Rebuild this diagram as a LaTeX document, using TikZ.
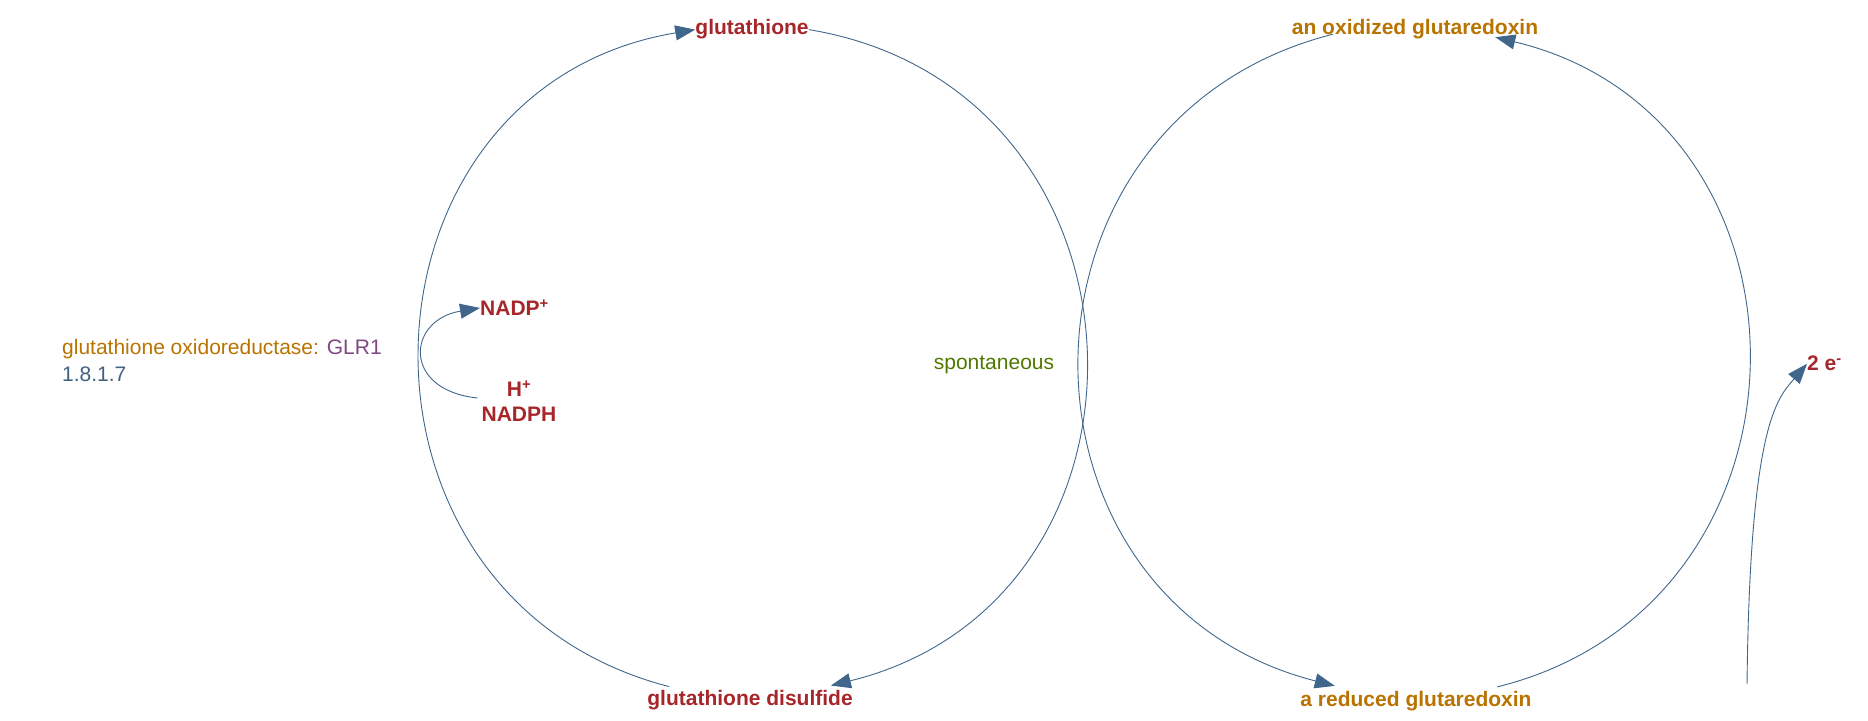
\documentclass[tikz,border=0pt]{standalone}
\usepackage{fontspec}
\setmainfont{Liberation Sans}
\usetikzlibrary{arrows.meta,calc}
\definecolor{cline}{RGB}{64,102,140}
\definecolor{cred}{RGB}{166,38,42}
\definecolor{corange}{RGB}{184,115,0}
\definecolor{cpurple}{RGB}{128,72,128}
\definecolor{cblue}{RGB}{64,96,128}
\definecolor{cgreen}{RGB}{80,120,0}
\begin{document}
\begin{tikzpicture}[x=1pt,y=1pt,
  conn/.style={draw=cline, line width=0.9pt},
  arr/.style={conn, -{Triangle[length=20pt,width=15pt]}},
  metab/.style={inner sep=0pt, font=\fontsize{21}{25}\selectfont\bfseries},
  lbl/.style={inner sep=0pt, font=\fontsize{21}{27}\selectfont}]
\useasboundingbox (0,0) rectangle (1868,720);

% compounds
\node[metab, text=cred, anchor=base] (gsh) at (752,685) {glutathione};
\node[metab, text=cred, anchor=base] (gssg) at (750,15) {glutathione disulfide};
\node[metab, text=corange, anchor=base] (grxox) at (1415,685) {an oxidized glutaredoxin};
\node[metab, text=corange, anchor=base] (grxred) at (1416,14) {a reduced glutaredoxin};
\node[metab, text=cred, anchor=base west] (nadp) at (480,404) {NADP\textsuperscript{+}};
\node[metab, text=cred, align=center] (nadph) at (519,319) {H\textsuperscript{+}\\NADPH};
\node[metab, text=cred, anchor=base west] (e2) at (1807,349) {2 e\textsuperscript{-}};

% labels
\node[lbl, anchor=base west] (enz) at (62,365) {\textcolor{corange}{glutathione oxidoreductase:} \textcolor{cpurple}{GLR1}};
\node[lbl, anchor=base west, text=cblue] (ec) at (62,338) {1.8.1.7};
\node[lbl, anchor=base, text=cgreen] (spont) at (994,350) {spontaneous};

% left cycle
\coordinate (l1s) at ($(gssg.north west)+(22,3)$);
\draw[arr] (l1s) .. controls ($(l1s)+(-345.5,88.8)$) and ($(gsh.west)+(-352.2,-58.7)$) .. (gsh.west);
\coordinate (l2e) at ($(gssg.north east)+(-22,4)$);
\draw[arr] (gsh.east) .. controls ($(gsh.east)+(356.0,-58.6)$) and ($(l2e)+(350.4,86.0)$) .. (l2e);

% right cycle
\coordinate (r1s) at ($(grxox.south west)+(41,5.4)$);
\coordinate (r1e) at ($(grxred.north west)+(34.5,4.7)$);
\draw[arr] (r1s) .. controls ($(r1s)+(-337.9,-86.0)$) and ($(r1e)+(-337.9,86.1)$) .. (r1e);
\coordinate (r2s) at ($(grxred.north east)+(-34.5,3.7)$);
\coordinate (r2e) at ($(grxox.south east)+(-43,2.4)$);
\draw[arr] (r2s) .. controls ($(r2s)+(335.2,83.0)$) and ($(r2e)+(335.9,-80.2)$) .. (r2e);

% cofactor
\coordinate (cs) at ($(nadph.west)+(-4,3)$);
\draw[arr] (cs) .. controls ($(cs)+(-76,8)$) and ($(nadp.west)+(-73,-12)$) .. (nadp.west);

% electrons
\coordinate (es) at (1747,36);
\draw[arr] (es) .. controls ($(es)+(3,260)$) and ($(e2.west)+(-30,-35)$) .. (e2.west);
\end{tikzpicture}
\end{document}
